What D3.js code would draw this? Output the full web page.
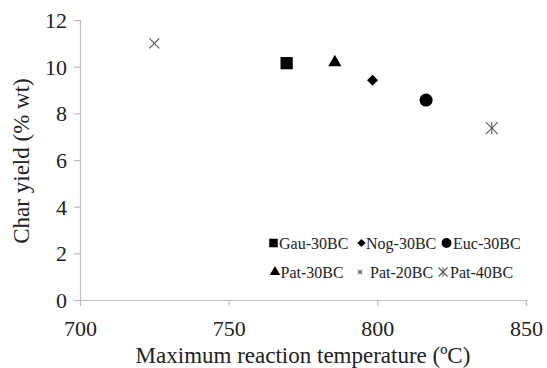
<!DOCTYPE html>
<html><head><meta charset="utf-8">
<script src="https://cdn.jsdelivr.net/npm/d3@7"></script>
<style>body{margin:0;background:#fff}svg{display:block}text{font-family:"Liberation Serif","Times New Roman",serif;fill:#222}</style>
</head><body><svg id="c" width="547" height="368"></svg>
<script>
const series = ["Gau-30BC","Nog-30BC","Euc-30BC","Pat-30BC","Pat-20BC","Pat-40BC"];
const temps  = [769.5, 798.4, 816.4, 785.7, 725.0, 838.5];
const yields = [10.15, 9.42, 8.57, 10.18, 11.0, 7.37];
const xTicks = [700,750,800,850];
const yTicks = [0,2,4,6,8,10,12];

const svg = d3.select("#c");
const x = d3.scaleLinear().domain([700,850]).range([80,526]);
const y = d3.scaleLinear().domain([0,12]).range([300,20]);
const axisColor = "#bdbdbd";

const xa = svg.append("g").attr("transform","translate(0,300)")
  .call(d3.axisBottom(x).tickValues(xTicks).tickSize(6).tickPadding(6));
const ya = svg.append("g").attr("transform","translate(80,0)")
  .call(d3.axisLeft(y).tickValues(yTicks).tickSize(6).tickPadding(7));
[xa,ya].forEach(a=>{
  a.select(".domain").attr("stroke",axisColor).attr("stroke-width",1.2);
  a.selectAll(".tick line").attr("stroke",axisColor).attr("stroke-width",1.2);
  a.selectAll(".tick text").style("font-size","22px").attr("fill","#222");
});
xa.selectAll(".tick text").attr("y",36).attr("dy","0");
ya.selectAll(".tick text").attr("dy","0.34em");

svg.append("text").attr("x",303).attr("y",363).attr("text-anchor","middle")
  .style("font-size","23px").text("Maximum reaction temperature (ºC)");
svg.append("text").attr("transform","translate(29,161) rotate(-90)").attr("text-anchor","middle")
  .style("font-size","23px").text("Char yield (% wt)");

function asterisk(g,s,col){
  const r=s/2;
  g.append("line").attr("x1",-r).attr("y1",-r).attr("x2",r).attr("y2",r);
  g.append("line").attr("x1",-r).attr("y1",r).attr("x2",r).attr("y2",-r);
  g.append("line").attr("x1",0).attr("y1",-r).attr("x2",0).attr("y2",r);
  g.selectAll("line").attr("stroke",col).attr("stroke-width",1.1);
}
function cross(g,s,col){
  const r=s/2;
  g.append("line").attr("x1",-r).attr("y1",-r).attr("x2",r).attr("y2",r);
  g.append("line").attr("x1",-r).attr("y1",r).attr("x2",r).attr("y2",-r);
  g.selectAll("line").attr("stroke",col).attr("stroke-width",1.1);
}
function marker(g,i,scale){
  const k=scale;
  if(i===0) g.append("path").attr("d",d3.symbol(d3.symbolSquare,150*k*k)()).attr("fill","#000");
  else if(i===1) g.append("path").attr("d",d3.symbol(d3.symbolSquare,60*k*k)()).attr("transform","rotate(45)").attr("fill","#000");
  else if(i===2) g.append("path").attr("d",d3.symbol(d3.symbolCircle,135*k*k)()).attr("fill","#000");
  else if(i===3) g.append("path").attr("d",d3.symbol(d3.symbolTriangle,75*k*k)()).attr("fill","#000");
  else if(i===4) cross(g,10*k,"#555");
  else asterisk(g,12*k,"#555");
}
series.forEach((s,i)=>{
  const g=svg.append("g").attr("transform",`translate(${x(temps[i])},${y(yields[i])})`);
  marker(g,i,1);
});

// legend
const legMX=[[273.5,361.5,446.5],[275,360,443]], legY=[243,272];
const legTX=[[279,366,453],[280.5,370,450]];
const legPos=[[0,0],[1,0],[2,0],[0,1],[1,1],[2,1]];
const legScale=[0.7,0.75,0.75,0.8,0.4,0.75];
series.forEach((s,i)=>{
  const [c,r]=legPos[i];
  const g=svg.append("g").attr("transform",`translate(${legMX[r][c]},${legY[r]})`);
  marker(g,i,legScale[i]);
  svg.append("text").attr("x",legTX[r][c]).attr("y",legY[r]).attr("dy","0.35em")
    .style("font-size","16px").text(s);
});
</script></body></html>
